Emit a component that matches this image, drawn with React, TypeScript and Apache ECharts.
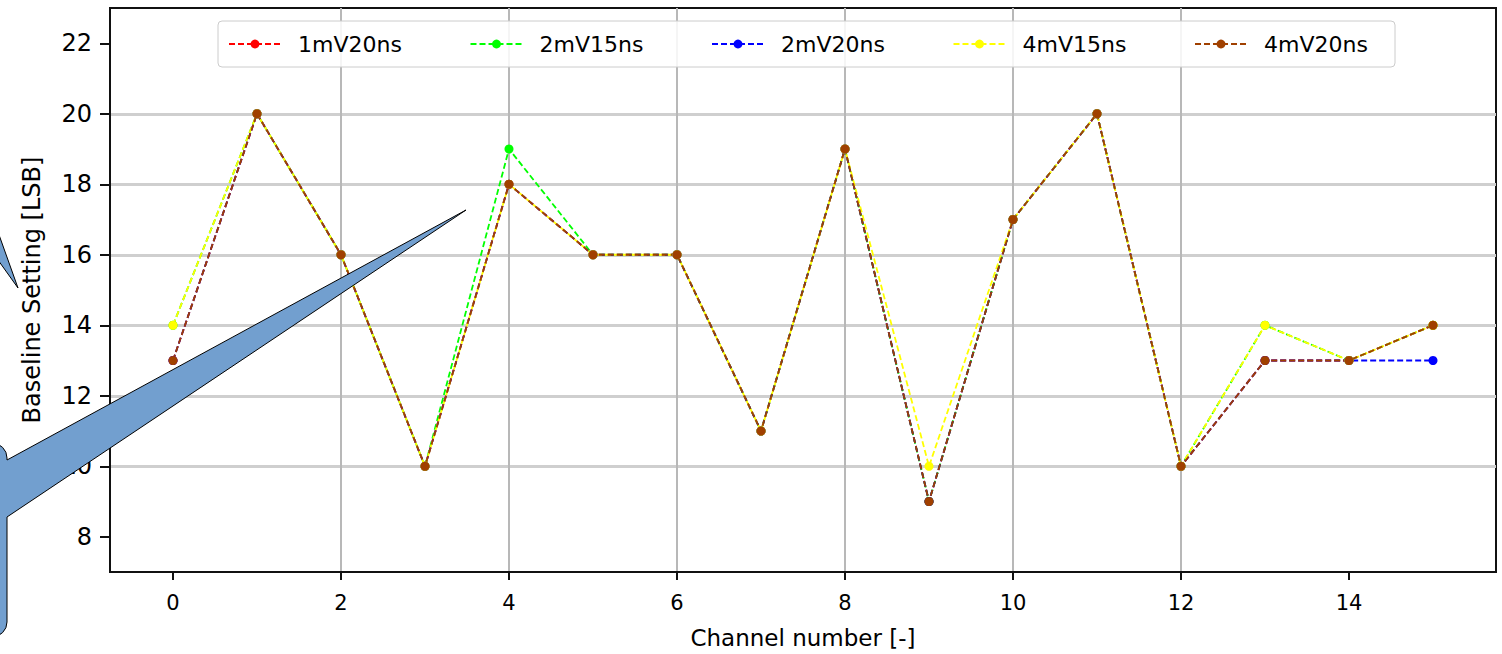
import React, { useEffect, useRef } from "react";
import * as echarts from "echarts";

const channels = [0, 1, 2, 3, 4, 5, 6, 7, 8, 9, 10, 11, 12, 13, 14, 15];
const s1mV20ns = [13, 20, 16, 10, 18, 16, 16, 11, 19, 9, 17, 20, 10, 13, 13, 14];
const s2mV15ns = [14, 20, 16, 10, 19, 16, 16, 11, 19, 9, 17, 20, 10, 14, 13, 14];
const s2mV20ns = [13, 20, 16, 10, 18, 16, 16, 11, 19, 9, 17, 20, 10, 13, 13, 13];
const s4mV15ns = [14, 20, 16, 10, 18, 16, 16, 11, 19, 10, 17, 20, 10, 14, 13, 14];
const s4mV20ns = [13, 20, 16, 10, 18, 16, 16, 11, 19, 9, 17, 20, 10, 13, 13, 14];

const seriesNames = ["1mV20ns", "2mV15ns", "2mV20ns", "4mV15ns", "4mV20ns"];
const seriesValues = [s1mV20ns, s2mV15ns, s2mV20ns, s4mV15ns, s4mV20ns];
const seriesColors = ["#ff0000", "#00ff00", "#0000ff", "#ffff00", "#a04000"];

const xTicks = [0, 2, 4, 6, 8, 10, 12, 14];
const yTicks = [8, 10, 12, 14, 16, 18, 20, 22];
const xRange = [-0.75, 15.75];
const yRange = [7, 23];

const calloutPath =
  "M -120 443 L -8 443 A 15 15 0 0 1 7 458 L 7 460 L 466 210 L 7 517 L 7 622 A 15 15 0 0 1 -8 637 L -120 637 Z";
const FONT = "DejaVu Sans";

export default function App() {
  const ref = useRef<HTMLDivElement>(null);
  useEffect(() => {
    if (!ref.current) return;
    try {
      echarts.graphic.registerShape("callout", echarts.graphic.extendPath(calloutPath, {}));
    } catch (e) {}
    const chart = echarts.init(ref.current, null, { renderer: "svg" });
    const series = seriesNames.map((name, i) => ({
      name,
      type: "line",
      data: channels.map((c, j) => [c, seriesValues[i][j]]),
      symbol: "circle",
      symbolSize: 9,
      showSymbol: true,
      silent: true,
      itemStyle: { color: seriesColors[i] },
      lineStyle: { color: seriesColors[i], width: 1.8, type: [6, 3] },
    }));
    chart.setOption({
      animation: false,
      backgroundColor: "#ffffff",
      textStyle: { fontFamily: FONT },
      grid: {
        left: 110,
        right: 6,
        top: 8,
        bottom: 82,
        containLabel: false,
        outerBoundsMode: "none",
        show: true,
        borderColor: "#111",
        borderWidth: 2,
        backgroundColor: "transparent",
      },
      legend: {
        left: 218,
        top: 21,
        padding: [11, 21, 11, 10],
        itemWidth: 52,
        itemHeight: 11,
        itemGap: 61.5,
        backgroundColor: "rgba(255,255,255,0.85)",
        borderColor: "#cccccc",
        borderWidth: 1,
        borderRadius: 4,
        textStyle: {
          fontFamily: FONT,
          fontSize: 22,
          color: "#000",
          width: 110,
          lineHeight: 24,
          padding: [0, 0, 0, 12],
        },
        data: seriesNames,
      },
      xAxis: {
        type: "value",
        min: xRange[0],
        max: xRange[1],
        splitNumber: 8,
        minInterval: 2,
        maxInterval: 2,
        name: "Channel number [-]",
        nameLocation: "middle",
        nameGap: 54,
        nameTextStyle: { fontFamily: FONT, fontSize: 23, color: "#000" },
        axisLine: { show: true, onZero: false, lineStyle: { color: "#111", width: 2 } },
        axisTick: { show: true, length: 8, customValues: xTicks, lineStyle: { color: "#111", width: 2 } },
        axisLabel: {
          customValues: xTicks,
          margin: 20,
          fontFamily: FONT,
          fontSize: 21,
          color: "#000",
        },
        splitLine: {
          show: true,
          showMinLine: false,
          showMaxLine: false,
          lineStyle: { color: "#b8b8b8", width: 2 },
        },
      },
      yAxis: {
        type: "value",
        min: yRange[0],
        max: yRange[1],
        splitNumber: 8,
        minInterval: 2,
        maxInterval: 2,
        name: "Baseline Setting [LSB]",
        nameLocation: "middle",
        nameGap: 66,
        nameTextStyle: { fontFamily: FONT, fontSize: 24, color: "#000" },
        axisLine: { show: true, onZero: false, lineStyle: { color: "#111", width: 2 } },
        axisTick: { show: true, length: 10, customValues: yTicks, lineStyle: { color: "#111", width: 2 } },
        axisLabel: {
          customValues: yTicks,
          margin: 18,
          fontFamily: FONT,
          fontSize: 24,
          color: "#000",
        },
        splitLine: {
          show: true,
          showMinLine: false,
          showMaxLine: false,
          lineStyle: { color: "#cfcfcf", width: 3 },
        },
      },
      graphic: [
        {
          type: "callout",
          x: 0,
          y: 0,
          z: 100,
          silent: true,
          style: { fill: "#729fcf", stroke: "#000", lineWidth: 1 },
        },
        {
          type: "polygon",
          z: 100,
          silent: true,
          shape: { points: [[-2, 232], [18, 288], [-2, 260]] },
          style: { fill: "#729fcf", stroke: "#000", lineWidth: 1 },
        },
      ],
      series,
    });
    return () => chart.dispose();
  }, []);
  return (
    <div
      ref={ref}
      style={{ position: "fixed", left: 0, top: 0, width: 1502, height: 654, background: "#fff" }}
    />
  );
}
